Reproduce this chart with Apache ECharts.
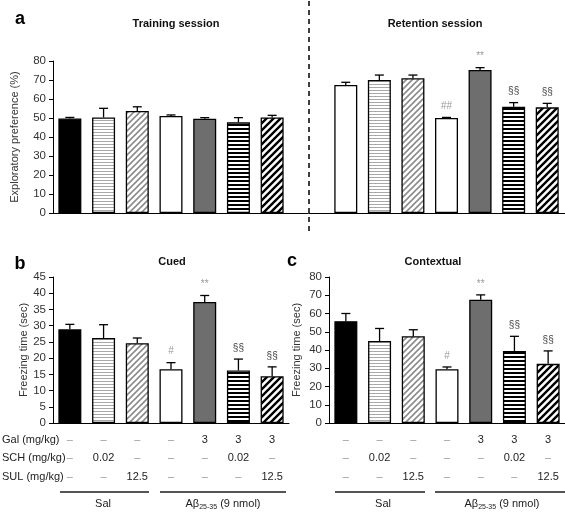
<!DOCTYPE html>
<html>
<head>
<meta charset="utf-8">
<script src="https://cdn.jsdelivr.net/npm/echarts@6/dist/echarts.min.js"></script>
<style>html,body{margin:0;padding:0;background:#fff}#c{width:565px;height:513px}</style>
</head>
<body>
<div id="c"></div>
<script>
// ---- data ----
const groups = ['Sal', 'Sal+SCH', 'Sal+SUL', 'Aβ', 'Aβ+Gal', 'Aβ+Gal+SCH', 'Aβ+Gal+SUL'];
const trainingMean = [49.7, 50.3, 53.7, 51.1, 49.6, 47.7, 50.3];
const trainingErr  = [0.6, 4.8, 2.2, 0.5, 0.6, 2.5, 1.1];
const trainingSig  = ['', '', '', '', '', '', ''];
const retentionMean = [67.4, 70.0, 70.9, 50.0, 75.3, 55.9, 55.6];
const retentionErr  = [1.4, 2.6, 1.7, 0.3, 1.2, 2.2, 2.1];
const retentionSig  = ['', '', '', '##', '**', '§§', '§§'];
const cuedMean = [28.9, 26.2, 24.6, 16.6, 37.3, 16.2, 14.4];
const cuedErr  = [1.5, 4.1, 1.6, 2.0, 2.0, 3.5, 2.9];
const cuedSig  = ['', '', '', '#', '**', '§§', '§§'];
const contextMean = [55.8, 44.9, 47.5, 29.5, 67.5, 39.5, 32.4];
const contextErr  = [4.2, 6.9, 3.6, 1.2, 2.7, 8.0, 7.1];
const contextSig  = ['', '', '', '#', '**', '§§', '§§'];
const galRow = ['–', '–', '–', '–', '3', '3', '3'];
const schRow = ['–', '0.02', '–', '–', '–', '0.02', '–'];
const sulRow = ['–', '–', '12.5', '–', '–', '–', '12.5'];
const rowLabels = ['Gal (mg/kg)', 'SCH (mg/kg)', 'SUL (mg/kg)'];
const groupLabels = ['Sal', 'Aβ{sub|25-35} (9 nmol)'];

// ---- patterns ----
function pat(w, h, draw) {
  const c = document.createElement('canvas'); c.width = w; c.height = h;
  const ctx = c.getContext('2d'); ctx.fillStyle = '#fff'; ctx.fillRect(0, 0, w, h);
  draw(ctx, w, h); return { image: c, repeat: 'repeat' };
}
function diag(color, lw) {
  return (ctx, s) => {
    ctx.strokeStyle = color; ctx.lineWidth = lw; ctx.beginPath();
    ctx.moveTo(-1, s + 1); ctx.lineTo(s + 1, -1);
    ctx.moveTo(-2, 2); ctx.lineTo(2, -2);
    ctx.moveTo(s - 2, s + 2); ctx.lineTo(s + 2, s - 2);
    ctx.stroke();
  };
}
const P = {
  black: '#000000',
  white: '#ffffff',
  grey: '#6e6e6e',
  hGrey: pat(4, 3, (ctx) => { ctx.fillStyle = '#a8a8a8'; ctx.fillRect(0, 0, 4, 1); }),
  dGrey: pat(6, 6, diag('#8c8c8c', 1.6)),
  hBlack: pat(4, 4, (ctx) => { ctx.fillStyle = '#000'; ctx.fillRect(0, 0, 4, 2); }),
  dBlack: pat(7, 7, diag('#000', 2.4))
};
const fillsMain = [P.black, P.hGrey, P.dGrey, P.white, P.grey, P.hBlack, P.dBlack];
const fillsRetention = [P.white, P.hGrey, P.dGrey, P.white, P.grey, P.hBlack, P.dBlack];

const FONT = 'Liberation Sans, Arial, sans-serif';
function barSeries(means, fills, xi, yi) {
  return { type: 'bar', xAxisIndex: xi, yAxisIndex: yi, barWidth: 23,
    data: means.map((v, i) => ({ value: v, itemStyle: { color: fills[i] } })),
    itemStyle: { borderColor: '#000', borderWidth: 1.3 }, silent: true, animation: false };
}
function errSeries(means, errs, sig, xi, yi) {
  return {
    type: 'custom', xAxisIndex: xi, yAxisIndex: yi, z: 5, animation: false, silent: true,
    data: means.map((m, i) => [i, m, errs[i]]),
    renderItem: function (params, api) {
      const i = api.value(0), m = api.value(1), e = api.value(2);
      const p0 = api.coord([i, m]);
      const p1 = api.coord([i, m + e]);
      const s = sig[params.dataIndex];
      const children = [
        { type: 'line', shape: { x1: p0[0], y1: p0[1], x2: p1[0], y2: p1[1] }, style: { stroke: '#000', lineWidth: 1.3 } },
        { type: 'line', shape: { x1: p1[0] - 4.5, y1: p1[1], x2: p1[0] + 4.5, y2: p1[1] }, style: { stroke: '#000', lineWidth: 1.3 } }
      ];
      if (s) {
        children.push({ type: 'text', style: { text: s, x: p1[0], y: p1[1] - 11, align: 'center', verticalAlign: 'middle',
          fill: s.indexOf('§') >= 0 ? '#444' : '#999', font: '10px ' + FONT } });
      }
      return { type: 'group', children: children };
    }
  };
}
function hiddenX(gi) {
  return { type: 'category', gridIndex: gi, data: groups, boundaryGap: true,
    axisLine: { show: false }, axisTick: { show: false }, axisLabel: { show: false } };
}
function lineX(gi, data) {
  return { type: 'category', gridIndex: gi, data: data, boundaryGap: true,
    axisLine: { show: true, lineStyle: { color: '#000', width: 1 } }, axisTick: { show: false }, axisLabel: { show: false } };
}
function rowX(gi, data, off) {
  return { type: 'category', gridIndex: gi, data: data, position: 'bottom', offset: off, boundaryGap: true,
    axisLine: { show: false }, axisTick: { show: false },
    axisLabel: { interval: 0, margin: 0, fontSize: 11, fontFamily: FONT, verticalAlign: 'middle',
      color: (v) => (v === '–' ? '#999' : '#222') } };
}
function valY(gi, max, interval, name, gap, show) {
  return { type: 'value', gridIndex: gi, min: 0, max: max, interval: interval, show: show !== false,
    name: name, nameLocation: 'middle', nameGap: gap, nameRotate: 90,
    nameTextStyle: { fontSize: 11, fontFamily: FONT, color: '#333' },
    splitLine: { show: false },
    axisLine: { show: true, lineStyle: { color: '#000', width: 1 } },
    axisTick: { show: true, inside: false, length: 4, lineStyle: { color: '#000' } },
    axisLabel: { fontSize: 11.5, fontFamily: FONT, color: '#333', margin: 7 } };
}

const chart = echarts.init(document.getElementById('c'), null, { renderer: 'canvas' });
const txt = (t, x, y, opt) => ({ type: 'text', x: x, y: y, silent: true,
  style: Object.assign({ text: t, align: 'center', verticalAlign: 'middle', fill: '#222', font: '11px ' + FONT }, opt || {}) });
const hline = (x1, x2, y) => ({ type: 'line', silent: true, shape: { x1: x1, y1: y, x2: x2, y2: y }, style: { stroke: '#555', lineWidth: 2 } });
const rich = { sub: { fontSize: 7, verticalAlign: 'bottom', fontFamily: FONT, fill: '#222', padding: [6, 0, 0, 0] } };

chart.setOption({
  animation: false,
  textStyle: { fontFamily: FONT },
  grid: [
    { left: 53, top: 61, width: 236, height: 152 },
    { left: 329, top: 61, width: 235, height: 152 },
    { left: 52, top: 61, width: 513, height: 152 },
    { left: 53, top: 277, width: 236, height: 146 },
    { left: 329, top: 277, width: 236, height: 146 }
  ],
  xAxis: [
    hiddenX(0), hiddenX(1), lineX(2, ['']),
    lineX(3, groups), rowX(3, galRow, 17), rowX(3, schRow, 35), rowX(3, sulRow, 54),
    lineX(4, groups), rowX(4, galRow, 17), rowX(4, schRow, 35), rowX(4, sulRow, 54)
  ],
  yAxis: [
    valY(0, 80, 10, 'Exploratory preference (%)', 33),
    valY(1, 80, 10, '', 0, false),
    valY(2, 80, 10, '', 0, false),
    valY(3, 45, 5, 'Freezing time (sec)', 23),
    valY(4, 80, 10, 'Freezing time (sec)', 27)
  ],
  series: [
    barSeries(trainingMean, fillsMain, 0, 0), errSeries(trainingMean, trainingErr, trainingSig, 0, 0),
    barSeries(retentionMean, fillsRetention, 1, 1), errSeries(retentionMean, retentionErr, retentionSig, 1, 1),
    barSeries(cuedMean, fillsMain, 3, 3), errSeries(cuedMean, cuedErr, cuedSig, 3, 3),
    barSeries(contextMean, fillsMain, 7, 4), errSeries(contextMean, contextErr, contextSig, 7, 4)
  ],
  graphic: [
    txt('a', 20, 19, { font: 'bold 18px ' + FONT, fill: '#000' }),
    txt('b', 20, 264, { font: 'bold 18px ' + FONT, fill: '#000' }),
    txt('c', 292, 261, { font: 'bold 18px ' + FONT, fill: '#000' }),
    txt('Training session', 176, 24, { font: 'bold 11px ' + FONT, fill: '#111' }),
    txt('Retention session', 435, 24, { font: 'bold 11px ' + FONT, fill: '#111' }),
    txt('Cued', 172, 262, { font: 'bold 11px ' + FONT, fill: '#111' }),
    txt('Contextual', 433, 262, { font: 'bold 11px ' + FONT, fill: '#111' }),
    { type: 'line', silent: true, shape: { x1: 309, y1: 1, x2: 309, y2: 233 }, style: { stroke: '#000', lineWidth: 1.5, lineDash: [5, 4] } },
    txt(rowLabels[0], 2, 440, { align: 'left' }),
    txt(rowLabels[1], 2, 458, { align: 'left' }),
    txt(rowLabels[2], 2, 477, { align: 'left' }),
    hline(60, 149, 492), hline(160, 286, 492),
    hline(335, 425, 492), hline(435, 565, 492),
    txt(groupLabels[0], 103, 504),
    txt(groupLabels[1], 223, 504, { rich: rich }),
    txt(groupLabels[0], 383, 504),
    txt(groupLabels[1], 502, 504, { rich: rich })
  ]
});
</script>
</body>
</html>
